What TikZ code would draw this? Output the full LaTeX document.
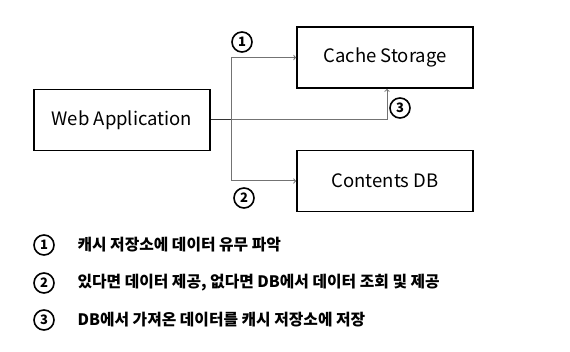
\documentclass[tikz,border=0pt]{standalone}
\usepackage{fontspec}
\setmainfont{Noto Sans CJK KR}
\usetikzlibrary{calc, positioning}

\begin{document}
\begin{tikzpicture}[x=1pt, y=-1pt, box/.style={draw, line width=1.6pt, minimum height=61pt, minimum width=176pt, font=\fontsize{18.5}{22}\selectfont}, num/.style={circle, draw, line width=1.6pt, minimum size=20pt, inner sep=0pt, font=\bfseries\fontsize{13}{13}\selectfont}, item/.style={anchor=west, font=\bfseries\fontsize{15.8}{18}\selectfont}, link/.style={line width=1pt, black!55}, >=to]
      \useasboundingbox (0,0) rectangle (570,352);
      \node[box] (web) at (122,120) {Web Application};
      \node[box] (cache) at (385,57.5) {Cache Storage};
      \node[box] (db) at (385,181) {Contents DB};
      \coordinate (split) at (231,120);
      \draw[line width=1pt, black!80] (web) -- (split);
      \draw[link, ->] (split) |- (cache.west);
      \draw[link, ->] (split) |- (db.west);
      \draw[link, ->] (split) -| ([xshift=2pt]cache.south);
      \node[num] (n1) at (242,42) {1};
      \node[num] (n2) at (244,198) {2};
      \node[num] (n3) at (400,108) {3};
      % legend
      \node[num] (l1) at (44,245) {1};
      \node[num] (l2) at (44,283) {2};
      \node[num] (l3) at (44,320) {3};
      \node[item] at (74,245) {캐시 저장소에 데이터 유무 파악};
      \node[item] at (74,283) {있다면 데이터 제공, 없다면 DB에서 데이터 조회 및 제공};
      \node[item] at (74,320) {DB에서 가져온 데이터를 캐시 저장소에 저장};
    \end{tikzpicture}
\end{document}
